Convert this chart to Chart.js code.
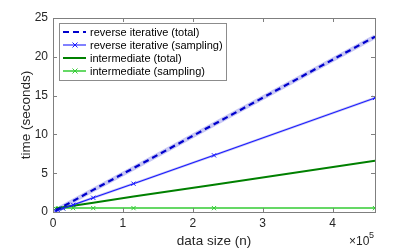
<!DOCTYPE html>
<html>
<head>
<meta charset="utf-8">
<script src="https://cdn.jsdelivr.net/npm/chart.js@4"></script>
<style>
  html, body { margin: 0; padding: 0; background: #fff; }
  #wrap { width: 415px; height: 249px; }
</style>
</head>
<body>
<div id="wrap"><canvas id="timeChart" width="415" height="249"></canvas></div>
<script>
// data sizes (n) and timings in seconds
const dataSizes = [3600, 7200, 14400, 28800, 57600, 115200, 230400, 460800];
const reverseTotal = [0.18, 0.36, 0.72, 1.42, 2.85, 5.65, 11.3, 22.6];
const reverseSampling = [0.12, 0.23, 0.46, 0.92, 1.83, 3.65, 7.3, 14.7];
const intermediateTotal = [0.45, 0.5, 0.6, 0.8, 1.2, 2.0, 3.5, 6.6];
const intermediateSampling = [0.45, 0.48, 0.5, 0.5, 0.5, 0.5, 0.5, 0.5];
const xTicks = [0, 100000, 200000, 300000, 400000];
const yTicks = [0, 5, 10, 15, 20, 25];
const seriesNames = ['reverse iterative (total)', 'reverse iterative (sampling)', 'intermediate (total)', 'intermediate (sampling)'];

const FONT = '"Liberation Sans", Arial, sans-serif';
const AXIS_GRAY = '#7f7f7f';
const TEXT = '#262626';

const toPoints = (ys) => dataSizes.map((x, i) => ({ x: x, y: ys[i] }));

// styles for the four visible series (used by the custom legend too)
const styles = [
  { color: '#0000cc', width: 2.2, dash: [6, 4], marker: false },
  { color: '#1a1aff', width: 1.1, dash: [], marker: true },
  { color: '#008000', width: 2, dash: [], marker: false },
  { color: '#33cc33', width: 1.5, dash: [], marker: true }
];

const line = (ys, st) => ({
  data: toPoints(ys),
  borderColor: st.color,
  backgroundColor: st.color,
  borderWidth: st.width,
  borderDash: st.dash,
  pointStyle: 'crossRot',
  pointRadius: st.marker ? 3 : 0,
  pointBorderWidth: 1,
  pointBorderColor: st.color,
  tension: 0,
  fill: false
});

// light halos under the blue lines (listed last so they are drawn first)
const halo = (ys, w) => ({
  data: toPoints(ys),
  borderColor: 'rgba(175,175,240,0.7)',
  borderWidth: w,
  pointRadius: 0,
  tension: 0,
  fill: false
});

const frame = {
  id: 'frame',
  afterDraw(chart) {
    const ctx = chart.ctx;
    const a = chart.chartArea;
    const xs = chart.scales.x, ys = chart.scales.y;
    ctx.save();
    ctx.strokeStyle = AXIS_GRAY;
    ctx.lineWidth = 1;
    ctx.strokeRect(Math.round(a.left) + 0.5, Math.round(a.top) + 0.5, Math.round(a.right - a.left), Math.round(a.bottom - a.top));
    ctx.beginPath();
    xTicks.forEach(v => {
      const px = Math.round(xs.getPixelForValue(v)) + 0.5;
      ctx.moveTo(px, a.bottom); ctx.lineTo(px, a.bottom - 4);
      ctx.moveTo(px, a.top); ctx.lineTo(px, a.top + 4);
    });
    yTicks.forEach(v => {
      const py = Math.round(ys.getPixelForValue(v)) + 0.5;
      ctx.moveTo(a.left, py); ctx.lineTo(a.left + 4, py);
      ctx.moveTo(a.right, py); ctx.lineTo(a.right - 4, py);
    });
    ctx.stroke();

    // axis titles
    ctx.fillStyle = TEXT;
    ctx.font = '13.5px ' + FONT;
    ctx.textAlign = 'center';
    ctx.textBaseline = 'middle';
    ctx.fillText('data size (n)', (a.left + a.right) / 2, 241);
    ctx.save();
    ctx.translate(26, (a.top + a.bottom) / 2);
    ctx.rotate(-Math.PI / 2);
    ctx.fillText('time (seconds)', 0, 0);
    ctx.restore();

    // exponent
    ctx.textAlign = 'left';
    ctx.font = '12px ' + FONT;
    ctx.fillText('\u00d710', 349, 242);
    ctx.font = '9px ' + FONT;
    ctx.fillText('5', 369, 236);

    // legend box
    const bx = 59.5, by = 23.5, bw = 167, bh = 57;
    ctx.fillStyle = '#fff';
    ctx.fillRect(bx, by, bw, bh);
    ctx.strokeStyle = '#8c8c8c';
    ctx.strokeRect(bx, by, bw, bh);
    ctx.font = '11px ' + FONT;
    ctx.textBaseline = 'middle';
    seriesNames.forEach((name, i) => {
      const st = styles[i];
      const y = 32 + i * 13;
      ctx.strokeStyle = st.color;
      ctx.lineWidth = st.width;
      ctx.setLineDash(st.dash);
      ctx.beginPath();
      ctx.moveTo(63, y); ctx.lineTo(86, y);
      ctx.stroke();
      ctx.setLineDash([]);
      if (st.marker) {
        ctx.lineWidth = 1;
        ctx.beginPath();
        ctx.moveTo(72.5, y - 2.5); ctx.lineTo(77.5, y + 2.5);
        ctx.moveTo(77.5, y - 2.5); ctx.lineTo(72.5, y + 2.5);
        ctx.stroke();
      }
      ctx.fillStyle = '#000';
      ctx.fillText(name, 90, y + 0.5);
    });
    ctx.restore();
  }
};

const ctx = document.getElementById('timeChart').getContext('2d');
const chart = new Chart(ctx, {
  type: 'line',
  data: {
    datasets: [
      line(reverseTotal, styles[0]),
      line(reverseSampling, styles[1]),
      line(intermediateTotal, styles[2]),
      line(intermediateSampling, styles[3]),
      halo(reverseTotal, 4.5),
      halo(reverseSampling, 2.5)
    ]
  },
  options: {
    responsive: false,
    animation: false,
    layout: { padding: { left: 0, right: 40, top: 18, bottom: 0 } },
    plugins: { legend: { display: false }, tooltip: { enabled: false } },
    scales: {
      x: {
        type: 'linear',
        min: 0,
        max: 460800,
        afterFit: (s) => { s.height = 37; },
        afterBuildTicks: (s) => { s.ticks = xTicks.map(v => ({ value: v })); },
        grid: { display: false, drawTicks: false },
        border: { display: false },
        ticks: {
          padding: 4,
          color: TEXT,
          font: { family: FONT, size: 12 },
          maxRotation: 0,
          callback: (v) => String(v / 100000)
        }
      },
      y: {
        min: 0,
        max: 25,
        afterFit: (s) => { s.width = 53; },
        afterBuildTicks: (s) => { s.ticks = yTicks.map(v => ({ value: v })); },
        grid: { display: false, drawTicks: false },
        border: { display: false },
        ticks: {
          padding: 5,
          color: TEXT,
          font: { family: FONT, size: 12 }
        }
      }
    }
  },
  plugins: [frame]
});
</script>
</body>
</html>
